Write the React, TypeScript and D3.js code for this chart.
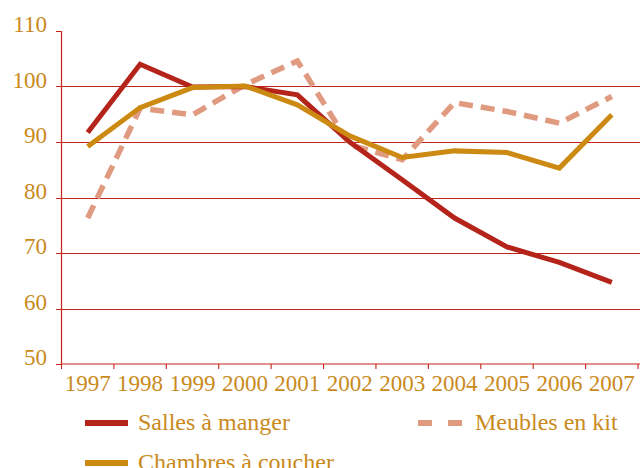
import React from 'react'
import * as d3 from 'd3'

// indices annuels, base 100 = 2000
const YEARS = ['1997', '1998', '1999', '2000', '2001', '2002', '2003', '2004', '2005', '2006', '2007']
const SALLES = [91.7, 104, 99.9, 100, 98.5, 90, 83.2, 76.3, 71.1, 68.3, 64.7]
const CHAMBRES = [89.2, 96.2, 99.8, 100.1, 96.7, 91.1, 87.2, 88.4, 88.1, 85.3, 94.9]
const MEUBLES = [76.3, 96.1, 94.9, 100.3, 104.6, 89.5, 86.8, 97.1, 95.5, 93.4, 98.2]
const Y_TICKS = [50, 60, 70, 80, 90, 100, 110]
const SERIES_NAMES = ['Salles à manger', 'Chambres à coucher', 'Meubles en kit']

const W = 640, H = 468
const GRID = '#c4221a'
const TEXT = '#c98a1c'
const FONT = '"Liberation Serif", "DejaVu Serif", serif'

export default function App() {
  const x = d3.scaleBand<string>().domain(YEARS).range([61.5, 638]).padding(0)
  const y = d3.scaleLinear().domain([50, 110]).range([364, 31])
  const cx = (i: number) => (x(YEARS[i]) ?? 0) + x.bandwidth() / 2

  const line = d3.line<number>().x((_, i) => cx(i)).y(d => y(d))

  const series = [
    { name: SERIES_NAMES[0], values: SALLES, color: '#b5241a', width: 5, dash: null as string | null },
    { name: SERIES_NAMES[1], values: CHAMBRES, color: '#cc8a12', width: 5, dash: null },
    { name: SERIES_NAMES[2], values: MEUBLES, color: '#e09a80', width: 5.5, dash: '14,8' },
  ]
  // ordre de tracé : meubles sous les deux autres
  const drawOrder = [2, 0, 1]

  const legendPos = [
    { x: 85, y: 423 },
    { x: 85, y: 463 },
    { x: 418, y: 423 },
  ]

  const boundaries = [...YEARS.map(yr => x(yr) ?? 0), x.range()[1]]

  return (
    <svg width={W} height={H} style={{ position: 'absolute', left: 0, top: 0, fontFamily: FONT }}>
      {/* quadrillage */}
      {Y_TICKS.filter(t => t > 50 && t < 110).map(t => (
        <line key={t} x1={61.5} x2={W} y1={Math.round(y(t)) + 0.5} y2={Math.round(y(t)) + 0.5}
          stroke={GRID} strokeWidth={1} />
      ))}
      {/* axes */}
      <line x1={61.5} x2={61.5} y1={y(110)} y2={y(50)} stroke={GRID} strokeWidth={1.2} />
      <line x1={61.5} x2={W} y1={y(50)} y2={y(50)} stroke={GRID} strokeWidth={1.2} />
      {Y_TICKS.map(t => (
        <g key={t}>
          <line x1={56} x2={61.5} y1={Math.round(y(t)) + 0.5} y2={Math.round(y(t)) + 0.5} stroke={GRID} strokeWidth={1} />
          <text x={47} y={y(t) + 1} textAnchor="end" fontSize={23} fill={TEXT}>{t}</text>
        </g>
      ))}
      {boundaries.map((b, i) => (
        <line key={i} x1={b} x2={b} y1={y(50)} y2={y(50) + 5} stroke={GRID} strokeWidth={1.1} />
      ))}
      {YEARS.map((yr, i) => (
        <text key={yr} x={cx(i)} y={391} textAnchor="middle" fontSize={23} fill={TEXT}>{yr}</text>
      ))}
      {/* séries */}
      {drawOrder.map(k => {
        const s = series[k]
        return (
          <path key={s.name} d={line(s.values) ?? ''} fill="none" stroke={s.color}
            strokeWidth={s.width} strokeDasharray={s.dash ?? undefined} strokeLinejoin="miter" />
        )
      })}
      {/* légende */}
      {series.map((s, k) => (
        <g key={s.name} transform={`translate(${legendPos[k].x},${legendPos[k].y})`}>
          <line x1={0} x2={s.dash ? 44 : 43} y1={0} y2={0} stroke={s.color} strokeWidth={6}
            strokeDasharray={s.dash ? '14,16' : undefined} />
          <text x={s.dash ? 57 : 53} y={6.5} fontSize={24} fill={TEXT}>{s.name}</text>
        </g>
      ))}
    </svg>
  )
}
